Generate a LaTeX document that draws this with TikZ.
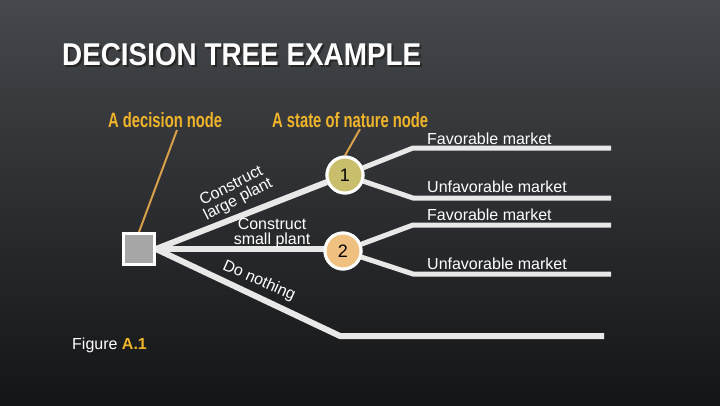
\documentclass[tikz,border=0pt]{standalone}
\usepackage{fontspec}
\setmainfont{Liberation Sans}
\usetikzlibrary{calc}
\definecolor{bgtop}{HTML}{45484C}
\definecolor{bgmid}{HTML}{2C2E31}
\definecolor{bgbot}{HTML}{141516}
\definecolor{lbl}{HTML}{F0B42A}
\definecolor{ptr}{HTML}{D9A04A}
\definecolor{branch}{HTML}{E8E8E8}
\definecolor{sqfill}{HTML}{A6A6A6}
\definecolor{cone}{HTML}{C9BE6C}
\definecolor{ctwo}{HTML}{F0C080}
\tikzset{
  br/.style={draw=branch, line width=6pt, line join=miter},
  subbr/.style={draw=branch, line width=5pt, line join=miter},
  pointer/.style={draw=ptr, line width=2pt},
  thin/.style={text=white, font=\fontsize{16}{15}\selectfont, inner sep=0pt},
  decbox/.style={draw=white, line width=3pt, fill=sqfill, minimum size=31pt, inner sep=0pt},
  chance/.style={circle, draw=white, line width=3pt, minimum size=36pt, inner sep=0pt, font=\fontsize{18}{18}\selectfont},
  orangelbl/.style={text=lbl, inner sep=0pt, anchor=base west, font=\bfseries}
}
\begin{document}
\begin{tikzpicture}[x=1pt,y=-1pt]
\useasboundingbox (0,0) rectangle (720,405);
% background
\shade[top color=bgtop, bottom color=bgmid] (0,0) rectangle (720,200);
\shade[top color=bgmid, bottom color=bgbot] (0,200) rectangle (720,405);
% title
\node[anchor=base west, inner sep=0pt, text=black!85] (titleshadow) at (64,67) {\resizebox{359pt}{22pt}{\bfseries DECISION TREE EXAMPLE}};
\node[anchor=base west, inner sep=0pt, text=white] (title) at (62,65) {\resizebox{359pt}{22pt}{\bfseries DECISION TREE EXAMPLE}};
% labels
\node[orangelbl] (ldec) at (108,127) {\resizebox{114pt}{15pt}{A decision node}};
\node[orangelbl] (lnat) at (272,127) {\resizebox{156pt}{15pt}{A state of nature node}};
% nodes
\node[decbox] (dec) at (139,249) {};
\node[chance, fill=cone] (c1) at (345,175) {1};
\node[chance, fill=ctwo] (c2) at (343,251) {2};
% pointers
\coordinate (pd) at (177,130);
\coordinate (pn) at (360,129);
\draw[pointer] (pd) -- (dec.north);
\draw[pointer] (pn) -- (c1.north);
% main branches
\coordinate (nb) at (340,336);
\coordinate (ne) at (604,336);
\draw[br] (dec.east) -- (c1);
\draw[br] (dec.east) -- (dec.east -| c2.west);
\draw[br] (dec.east) -- (nb) -- (ne);
% sub branches
\coordinate (a1) at (413,148); \coordinate (a2) at (611,148);
\coordinate (b1) at (413,198); \coordinate (b2) at (611,198);
\coordinate (e1) at (413,225); \coordinate (e2) at (611,225);
\coordinate (f1) at (413,274); \coordinate (f2) at (611,274);
\draw[subbr] (c1) -- (a1) -- (a2);
\draw[subbr] (c1) -- (b1) -- (b2);
\draw[subbr] (c2) -- (e1) -- (e2);
\draw[subbr] (c2) -- (f1) -- (f2);
% redraw nodes on top
\node[decbox] at (dec) {};
\node[chance, fill=cone] at (c1) {1};
\node[chance, fill=ctwo] at (c2) {2};
% market labels
\node[thin, anchor=base west] (m1) at (427,144) {Favorable market};
\node[thin, anchor=base west] (m2) at (427,192) {Unfavorable market};
\node[thin, anchor=base west] (m3) at (427,220) {Favorable market};
\node[thin, anchor=base west] (m4) at (427,269) {Unfavorable market};
% branch labels
\node[thin, align=center, rotate=27] (large) at (235,193) {Construct\\large plant};
\node[thin, align=center] (small) at (272,233) {Construct\\small plant};
\node[thin, rotate=-24] (nothing) at (259,281) {Do nothing};
% figure caption
\node[thin, anchor=base west] (fig) at (72,349) {Figure {\color{lbl}\bfseries A.1}};
\end{tikzpicture}
\end{document}
